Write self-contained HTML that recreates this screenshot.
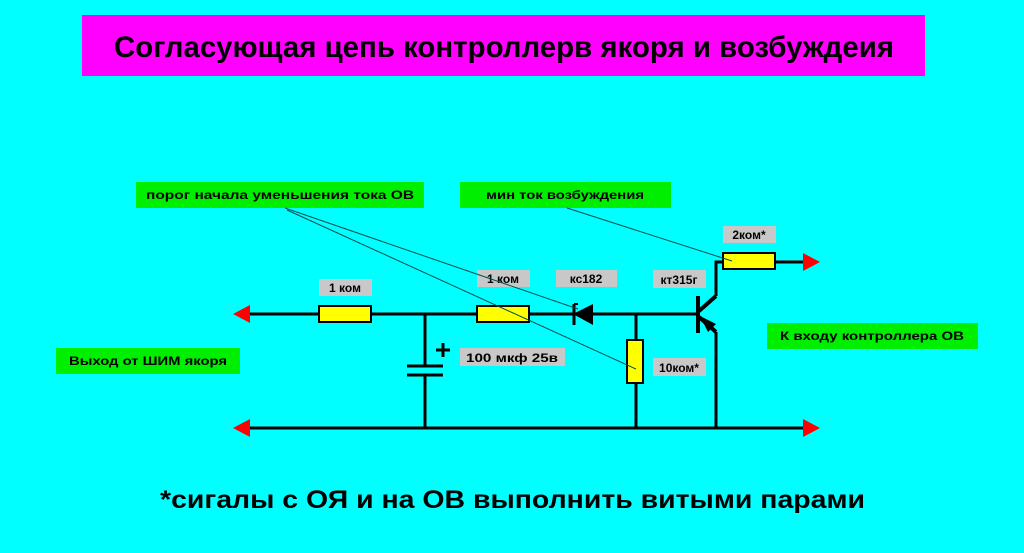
<!DOCTYPE html>
<html><head><meta charset="utf-8"><style>html,body{margin:0;padding:0;background:#00ffff}svg{display:block}</style></head>
<body>
<svg width="1024" height="553" viewBox="0 0 1024 553" xmlns="http://www.w3.org/2000/svg" font-family="Liberation Sans, DejaVu Sans, sans-serif">
<rect width="1024" height="553" fill="#00ffff"/>
<rect x="82" y="15" width="843" height="61" fill="#ff00ff"/>
<text x="114" y="57" font-size="30" font-weight="bold" textLength="780" lengthAdjust="spacingAndGlyphs">Согласующая цепь контроллерв якоря и возбуждеия</text>

<!-- green labels -->
<g font-size="12" font-weight="bold">
<rect x="136" y="182" width="288" height="26" fill="#00ee00"/>
<text x="280" y="199" text-anchor="middle" textLength="268" lengthAdjust="spacingAndGlyphs">порог начала уменьшения тока ОВ</text>
<rect x="460" y="182" width="211" height="26" fill="#00ee00"/>
<text x="565" y="199" text-anchor="middle" textLength="158" lengthAdjust="spacingAndGlyphs">мин ток возбуждения</text>
<rect x="56" y="348" width="184" height="26" fill="#00ee00"/>
<text x="148" y="365" text-anchor="middle" textLength="158" lengthAdjust="spacingAndGlyphs">Выход от ШИМ якоря</text>
<rect x="767" y="323" width="211" height="26" fill="#00ee00"/>
<text x="872" y="340" text-anchor="middle" textLength="184" lengthAdjust="spacingAndGlyphs">К входу контроллера ОВ</text>
</g>

<!-- gray labels -->
<g font-size="12" font-weight="bold" fill="#000">
<rect x="319" y="279" width="53" height="17" fill="#c8c8c8"/><text x="345" y="292" text-anchor="middle">1 ком</text>
<rect x="477" y="270" width="53" height="17" fill="#c8c8c8"/><text x="503" y="283" text-anchor="middle">1 ком</text>
<rect x="556" y="270" width="61" height="17" fill="#c8c8c8"/><text x="586" y="283" text-anchor="middle">кс182</text>
<rect x="653" y="270" width="53" height="18" fill="#c8c8c8"/><text x="679" y="284" text-anchor="middle">кт315г</text>
<rect x="723" y="226" width="53" height="17" fill="#c8c8c8"/><text x="749" y="239" text-anchor="middle">2ком*</text>
<rect x="460" y="348" width="105" height="18" fill="#c8c8c8"/><text x="512" y="362" text-anchor="middle" textLength="92" lengthAdjust="spacingAndGlyphs">100 мкф 25в</text>
<rect x="653" y="358" width="53" height="18" fill="#c8c8c8"/><text x="679" y="372" text-anchor="middle">10ком*</text>
</g>

<!-- wires -->
<g stroke="#000" stroke-width="3" fill="none">
<line x1="248" y1="314" x2="697" y2="314"/>
<line x1="248" y1="428" x2="805" y2="428"/>
<line x1="425" y1="314" x2="425" y2="366"/>
<line x1="425" y1="375" x2="425" y2="428"/>
<line x1="407" y1="366" x2="443" y2="366"/>
<line x1="407" y1="375" x2="443" y2="375"/>
<line x1="436" y1="350" x2="450" y2="350"/>
<line x1="443" y1="343" x2="443" y2="357"/>
<line x1="636" y1="314" x2="636" y2="428"/>
<line x1="716" y1="428" x2="716" y2="332"/>
<polyline points="716,296 716,262 805,262"/>
<line x1="716" y1="296" x2="699" y2="311" stroke-width="4"/>
<line x1="699" y1="317" x2="716" y2="332" stroke-width="4"/>
</g>
<line x1="698" y1="296" x2="698" y2="333" stroke="#000" stroke-width="4"/>
<polygon points="700,316 716,324 708,332" fill="#000"/>
<!-- diode -->
<polygon points="573,314 593,304 593,325" fill="#000"/>
<line x1="574" y1="304" x2="574" y2="325" stroke="#000" stroke-width="3"/>
<line x1="574" y1="304" x2="578" y2="304" stroke="#000" stroke-width="2"/>

<!-- resistors -->
<g fill="#ffff00" stroke="#000" stroke-width="2">
<rect x="319" y="306" width="52" height="16"/>
<rect x="477" y="306" width="52" height="16"/>
<rect x="627" y="340" width="16" height="43"/>
<rect x="723" y="253" width="52" height="16"/>
</g>

<!-- arrows -->
<g fill="#ff0000">
<polygon points="233,314 250,305 250,323"/>
<polygon points="233,428 250,419 250,437"/>
<polygon points="820,262 803,253 803,271"/>
<polygon points="820,428 803,419 803,437"/>
</g>

<!-- leader lines -->
<g stroke="#005050" stroke-width="1">
<line x1="285" y1="208" x2="578" y2="309"/>
<line x1="287" y1="210" x2="636" y2="369"/>
<line x1="567" y1="208" x2="732" y2="261"/>
</g>

<text x="160" y="508" font-size="25" font-weight="bold" textLength="705" lengthAdjust="spacingAndGlyphs">*сигалы с ОЯ и на ОВ выполнить витыми парами</text>
</svg>
</body></html>
